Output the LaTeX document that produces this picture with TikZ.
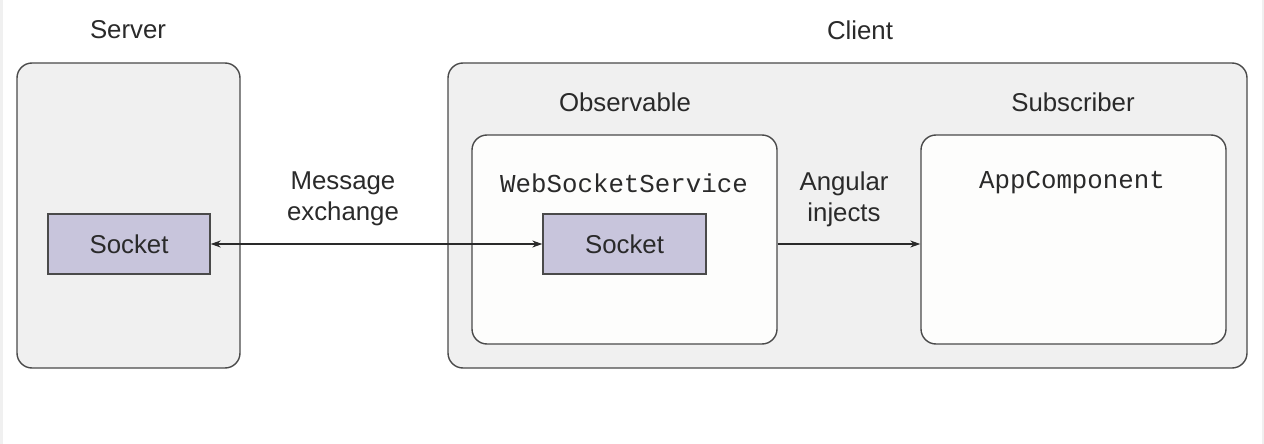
\documentclass[tikz,border=0pt]{standalone}
\usepackage{fontspec}
\setmainfont{Liberation Sans}
\newfontfamily\codefont{Liberation Mono}
\usetikzlibrary{arrows.meta}
\definecolor{outerfill}{HTML}{F0F0F0}
\definecolor{innerfill}{HTML}{FDFDFC}
\definecolor{sockfill}{HTML}{C8C5DC}
\definecolor{edge}{HTML}{4A4A4A}
\definecolor{txt}{HTML}{2A2A2A}
\tikzset{
  lbl/.style={font=\fontsize{25.8}{31}\selectfont, text=txt, inner sep=0pt, align=center},
  code/.style={font=\codefont\fontsize{25.8}{31}\selectfont, text=txt, inner sep=0pt},
  outerbox/.style={draw=edge, line width=1.4pt, fill=outerfill, rounded corners=15pt},
  innerbox/.style={draw=edge, line width=1.4pt, fill=innerfill, rounded corners=15pt},
  sockbox/.style={draw=edge, line width=1.4pt, fill=sockfill},
  conn/.style={draw=txt, line width=1.1pt, -{Stealth[length=10pt,width=7pt]}},
}
\begin{document}
\begin{tikzpicture}[x=1pt,y=-1pt]
\useasboundingbox (0,0) rectangle (1264,444);
\fill[white] (0,0) rectangle (1264,444);
\fill[outerfill] (0,0) rectangle (3,444);
\fill[outerfill] (1262,0) rectangle (1264,444);
% server
\draw[outerbox] (17,63) rectangle (240,368);
\node[lbl] (serverlbl) at (128,30) {Server};
\node[sockbox, minimum width=162pt, minimum height=60pt, inner sep=0pt] (sock1) at (129,244) {};
\node[lbl] at (sock1) {Socket};
% client
\draw[outerbox] (448,63) rectangle (1247,368);
\node[lbl] (clientlbl) at (860,30) {Client};
\node[lbl] (obslbl) at (625,102) {Observable};
\node[innerbox, minimum width=305pt, minimum height=209pt, inner sep=0pt] (obs) at (624.5,239.5) {};
\node[code] (wss) at (624,183) {WebSocketService};
\node[sockbox, minimum width=163pt, minimum height=60pt, inner sep=0pt] (sock2) at (624.5,244) {};
\node[lbl] at (sock2) {Socket};
\node[lbl] (sublbl) at (1073,102) {Subscriber};
\node[innerbox, minimum width=305pt, minimum height=209pt, inner sep=0pt] (sub) at (1073.5,239.5) {};
\node[code] (appc) at (1072,183) {AppComponent};
% connectors
\draw[conn, {Stealth[length=10pt,width=7pt]}-{Stealth[length=10pt,width=7pt]}] (sock1.east) -- (sock2.west);
\node[lbl] (msg) at (343,199) {Message\\exchange};
\draw[conn] (obs.east |- sock2.east) -- (sub.west |- sock2.east);
\node[lbl] (inj) at (844,199) {Angular\\injects};
\end{tikzpicture}
\end{document}
